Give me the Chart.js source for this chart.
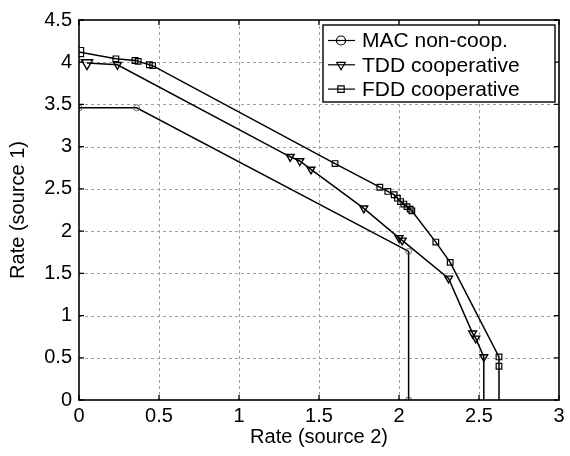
<!DOCTYPE html>
<html>
<head>
<meta charset="utf-8">
<script src="https://cdn.jsdelivr.net/npm/chart.js@4"></script>
<style>
  html, body { margin: 0; padding: 0; background: #fff; }
  #wrap { width: 570px; height: 456px; }
</style>
</head>
<body>
<div id="wrap"><canvas id="chart" width="570" height="456"></canvas></div>
<script>
// series
const seriesNames = ['MAC non-coop.', 'TDD cooperative', 'FDD cooperative'];

const macX = [0, 0.36, 2.06, 2.06];
const macY = [3.46, 3.46, 1.76, 0];

const tddX = [0.05, 0.24, 1.32, 1.38, 1.45, 1.78, 2.0, 2.02, 2.31, 2.46, 2.48, 2.53, 2.53];
const tddY = [3.99, 3.97, 2.88, 2.83, 2.73, 2.27, 1.92, 1.89, 1.44, 0.79, 0.73, 0.51, 0];

const fddX = [0, 0.23, 0.35, 0.37, 0.44, 0.46, 1.6, 1.88, 1.93, 1.97, 1.99, 2.01, 2.03, 2.05, 2.07, 2.08, 2.23, 2.32, 2.625, 2.625, 2.625];
const fddY = [4.12, 4.04, 4.02, 4.01, 3.97, 3.96, 2.80, 2.52, 2.47, 2.43, 2.39, 2.35, 2.32, 2.29, 2.26, 2.24, 1.87, 1.63, 0.51, 0.40, 0];

const xTicks = [0, 0.5, 1, 1.5, 2, 2.5, 3];
const yTicks = [0, 0.5, 1, 1.5, 2, 2.5, 3, 3.5, 4, 4.5];

function toPoints(xs, ys) {
  return xs.map((x, i) => ({ x: x, y: ys[i] }));
}

const FONT = 'Liberation Sans, Arial, Helvetica, sans-serif';

// dashed grid under the data
const dashedGrid = {
  id: 'dashedGrid',
  beforeDatasetsDraw(chart) {
    const ctx = chart.ctx;
    const a = chart.chartArea;
    const xs = chart.scales.x, ys = chart.scales.y;
    ctx.save();
    ctx.strokeStyle = '#a0a0a0';
    ctx.lineWidth = 1;
    ctx.setLineDash([3, 3]);
    ctx.beginPath();
    xTicks.slice(1, -1).forEach(v => {
      const px = Math.round(xs.getPixelForValue(v)) + 0.5;
      ctx.moveTo(px, a.top); ctx.lineTo(px, a.bottom);
    });
    yTicks.slice(1, -1).forEach(v => {
      const py = Math.round(ys.getPixelForValue(v)) + 0.5;
      ctx.moveTo(a.left, py); ctx.lineTo(a.right, py);
    });
    ctx.stroke();
    ctx.restore();
  }
};

// legend box + frame + inward ticks, matlab style
const frameAndLegend = {
  id: 'frameAndLegend',
  afterDatasetsDraw(chart) {
    const ctx = chart.ctx;
    const a = chart.chartArea;
    const xs = chart.scales.x, ys = chart.scales.y;
    ctx.save();
    ctx.strokeStyle = '#000';
    ctx.lineWidth = 1.3;
    ctx.beginPath();
    xTicks.forEach(v => {
      const px = xs.getPixelForValue(v);
      ctx.moveTo(px, a.bottom); ctx.lineTo(px, a.bottom - 5);
      ctx.moveTo(px, a.top); ctx.lineTo(px, a.top + 5);
    });
    yTicks.forEach(v => {
      const py = ys.getPixelForValue(v);
      ctx.moveTo(a.left, py); ctx.lineTo(a.left + 5, py);
      ctx.moveTo(a.right, py); ctx.lineTo(a.right - 5, py);
    });
    ctx.stroke();
    ctx.lineWidth = 1.6;
    ctx.strokeRect(a.left, a.top, a.right - a.left, a.bottom - a.top);

    // legend
    const bx = a.right - 236, by = a.top + 5, bw = 232, bh = 77;
    ctx.fillStyle = '#fff';
    ctx.fillRect(bx, by, bw, bh);
    ctx.lineWidth = 1.4;
    ctx.strokeRect(bx, by, bw, bh);
    ctx.font = '21px ' + FONT;
    ctx.textBaseline = 'middle';
    ctx.textAlign = 'left';
    chart.data.datasets.forEach((ds, i) => {
      const cy = by + 15.5 + i * 24.3;
      ctx.strokeStyle = '#000';
      ctx.lineWidth = 1.2;
      ctx.beginPath();
      ctx.moveTo(bx + 5, cy); ctx.lineTo(bx + 32, cy);
      ctx.stroke();
      ctx.fillStyle = 'rgba(0,0,0,0)';
      Chart.helpers.drawPoint(ctx, {
        pointStyle: ds.pointStyle, rotation: ds.rotation || 0,
        radius: i === 1 ? 5 : 4.5, borderWidth: 1
      }, bx + 18, cy);
      ctx.fillStyle = '#000';
      ctx.fillText(ds.label, bx + 39, cy + 1);
    });
    ctx.restore();
  }
};

const ctx = document.getElementById('chart').getContext('2d');
new Chart(ctx, {
  type: 'scatter',
  data: {
    datasets: [
      {
        label: seriesNames[0],
        data: toPoints(macX, macY),
        showLine: true,
        borderColor: '#000',
        borderWidth: 1.5,
        pointStyle: 'circle',
        pointRadius: 3,
        pointBorderWidth: 0.8,
        pointBorderColor: '#444',
        pointBackgroundColor: 'rgba(0,0,0,0)'
      },
      {
        label: seriesNames[1],
        data: toPoints(tddX, tddY),
        showLine: true,
        borderColor: '#000',
        borderWidth: 1.5,
        pointStyle: 'triangle',
        rotation: 180,
        pointRadius: c => c.dataIndex === 0 ? 6.5 : (c.dataIndex === tddX.length - 1 ? 0 : 4.5),
        pointBorderWidth: 1.4,
        pointBorderColor: '#000',
        pointBackgroundColor: 'rgba(0,0,0,0)'
      },
      {
        label: seriesNames[2],
        data: toPoints(fddX, fddY),
        showLine: true,
        borderColor: '#000',
        borderWidth: 1.5,
        pointStyle: 'rect',
        pointRadius: c => c.dataIndex === 0 ? 6.5 : (c.dataIndex === fddX.length - 1 ? 0 : 4),
        pointBorderWidth: 1.2,
        pointBorderColor: '#000',
        pointBackgroundColor: 'rgba(0,0,0,0)'
      }
    ]
  },
  options: {
    responsive: false,
    animation: false,
    layout: { padding: { left: 0, top: 20, right: 11, bottom: 0 } },
    plugins: {
      legend: { display: false },
      tooltip: { enabled: false }
    },
    scales: {
      x: {
        type: 'linear',
        min: 0, max: 3,
        afterBuildTicks: s => { s.ticks = xTicks.map(v => ({ value: v })); },
        afterFit: s => { s.height = 56; },
        grid: { display: false, drawTicks: false },
        border: { display: false },
        ticks: { color: '#000', padding: 4, font: { family: FONT, size: 20 }, maxRotation: 0, callback: v => String(v) },
        title: { display: true, text: 'Rate (source 2)', color: '#000', font: { family: FONT, size: 20 }, padding: { top: 0, bottom: 7 } }
      },
      y: {
        type: 'linear',
        min: 0, max: 4.5,
        afterBuildTicks: s => { s.ticks = yTicks.map(v => ({ value: v })); },
        afterFit: s => { s.width = 79; },
        grid: { display: false, drawTicks: false },
        border: { display: false },
        ticks: { color: '#000', padding: 7, font: { family: FONT, size: 20 }, callback: v => String(v) },
        title: { display: true, text: 'Rate (source 1)', color: '#000', font: { family: FONT, size: 20 }, padding: { top: 6, bottom: 0 } }
      }
    }
  },
  plugins: [dashedGrid, frameAndLegend]
});
</script>
</body>
</html>
